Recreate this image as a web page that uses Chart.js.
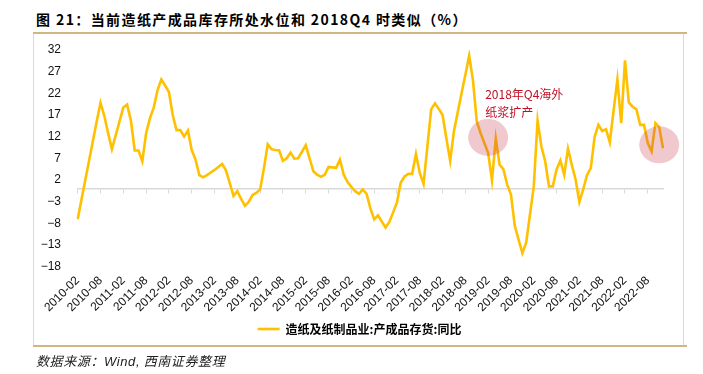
<!DOCTYPE html>
<html>
<head>
<meta charset="utf-8">
<script src="https://cdn.jsdelivr.net/npm/chart.js@4.4.1/dist/chart.umd.min.js"></script>
<style>
    html, body { margin: 0; padding: 0; background: #fff; }
    #wrap { position: relative; width: 703px; height: 374px; overflow: hidden; }
    #title { position: absolute; left: 36px; top: 9px; font: bold 14px "Noto Sans CJK SC", sans-serif; letter-spacing: 1.4px; color: #000; white-space: nowrap; }
    .hline { position: absolute; left: 33px; width: 654px; height: 0; border-top: 2px solid #d3b582; }
    .vline { position: absolute; top: 34px; width: 0; height: 311px; border-left: 1px solid #d9d9d9; }
    #source { position: absolute; left: 36px; top: 351px; font: italic 13px "Noto Sans CJK SC", sans-serif; letter-spacing: 0.6px; color: #222; white-space: nowrap; }
    #source span { font-family: "Liberation Sans", Arial, sans-serif; }
    canvas { position: absolute; left: 0; top: 0; }
</style>
</head>
<body>
<div id="wrap">
    <div id="title">图 21：当前造纸产成品库存所处水位和 2018Q4 时类似（%）</div>
    <div class="hline" style="top:32px"></div>
    <div class="vline" style="left:33px"></div>
    <div class="vline" style="left:683px"></div>
    <div class="hline" style="top:345px"></div>
    <canvas id="inventoryChart" width="703" height="374"></canvas>
    <div id="source">数据来源：<span>Wind,</span> 西南证券整理</div>
</div>
<script>
// Months 2010-02 .. 2022-12
const startYear = 2010;
const startMonth = 2;

// 造纸及纸制品业:产成品存货:同比 (%)
const inventoryYoY = [
    -7.1, -2.5, 2.0, 6.5, 11.0, 15.5, 19.8, 16.8, 12.8, 9.1,
    12.3, 15.5, 18.7, 19.4, 15.7, 8.8, 8.8, 6.3, 12.8, 16.2,
    18.7, 22.7, 25.2, 23.8, 22.3, 17.0, 13.5, 13.5, 12.0, 13.4,
    8.9, 6.7, 3.1, 2.6, 3.1, 3.7, 4.3, 5.0, 5.7, 4.2,
    1.3, -1.7, -0.6, -2.4, -4.0, -3.1, -1.5, -1.0, -0.2, 4.7,
    10.2, 9.1, 8.9, 8.8, 6.4, 7.0, 8.3, 6.9, 7.0, 8.5,
    10.0, 7.0, 4.0, 3.2, 2.7, 3.2, 5.0, 4.9, 4.8, 6.7,
    3.2, 1.5, 0.4, -0.6, -1.2, -0.2, -1.2, -4.5, -7.1, -6.2,
    -7.6, -9.0, -7.7, -5.5, -3.2, 1.4, 2.8, 3.4, 3.4, 8.0,
    3.6, 1.1, 9.7, 18.3, 19.7, 18.4, 17.0, 11.6, 6.4, 13.3,
    17.7, 22.0, 26.3, 30.7, 25.0, 15.5, 12.8, 10.5, 8.2, 1.9,
    11.6, 5.5, 4.5, 0.9, -1.4, -8.6, -11.8, -14.9, -12.5, -6.0,
    0.5, 15.7, 9.7, 6.3, 0.5, 0.5, 4.4, 6.5, 3.2, 9.2,
    5.5, 2.1, -3.1, -0.2, 3.1, 4.7, 11.9, 14.7, 13.3, 13.7,
    10.7, 18.0, 25.2, 15.1, 29.6, 19.9, 18.9, 18.3, 14.7, 14.7,
    10.5, 8.6, 15.1, 14.2, 9.3
];

const months = [];
for (let k = 0; k < inventoryYoY.length; k++) {
    const m = startMonth - 1 + k;
    const yr = startYear + Math.floor(m / 12);
    const mo = (m % 12) + 1;
    months.push(yr + '-' + String(mo).padStart(2, '0'));
}

// y axis
const yMin = -18;
const yMax = 32;
const yStep = 5;

// highlighted spots and note
const highlightMonths = ['2019-02', '2022-11'];
const highlightValues = [11.8, 10.1];
const noteLines = ['2018年Q4海外', '纸浆扩产'];

const tickFont = { family: '"Liberation Sans", Arial, sans-serif', size: 12 };

const highlightPlugin = {
    id: 'highlights',
    afterDatasetsDraw(chart) {
        const { ctx, scales } = chart;
        ctx.save();
        const centers = highlightMonths.map((m, i) => ({
            x: scales.x.getPixelForValue(months.indexOf(m)),
            y: scales.y.getPixelForValue(highlightValues[i])
        }));
        centers.forEach(c => {
            ctx.beginPath();
            ctx.ellipse(c.x, c.y, 20, 18.5, 0, 0, Math.PI * 2);
            ctx.fillStyle = 'rgba(200, 60, 80, 0.28)';
            ctx.fill();
        });
        // note above the first spot
        ctx.fillStyle = '#c00f25';
        ctx.font = '12px "Noto Sans CJK SC", sans-serif';
        ctx.textAlign = 'left';
        ctx.textBaseline = 'middle';
        noteLines.forEach((t, i) => {
            ctx.fillText(t, centers[0].x - 3, centers[0].y - 43 + i * 17.5);
        });
        ctx.restore();
    }
};

new Chart(document.getElementById('inventoryChart'), {
    type: 'line',
    data: {
        labels: months,
        datasets: [{
            label: '造纸及纸制品业:产成品存货:同比',
            data: inventoryYoY,
            borderColor: '#FFC000',
            backgroundColor: '#FFC000',
            borderWidth: 2.6,
            pointRadius: 0,
            tension: 0
        }]
    },
    options: {
        responsive: false,
        animation: false,
        layout: {
            padding: { left: 36, right: 20, top: 50, bottom: 29 }
        },
        plugins: {
            legend: {
                position: 'bottom',
                labels: {
                    usePointStyle: true,
                    pointStyle: 'line',
                    pointStyleWidth: 22,
                    color: '#000',
                    padding: 10,
                    font: { family: '"Noto Sans CJK SC", sans-serif', size: 12, weight: 'bold' }
                }
            },
            tooltip: { enabled: false }
        },
        scales: {
            x: {
                type: 'category',
                position: 'bottom',
                grid: { display: false, drawTicks: true, tickLength: 4 },
                border: { display: false },
                ticks: {
                    autoSkip: false,
                    minRotation: 45,
                    maxRotation: 45,
                    padding: 3,
                    color: '#111',
                    font: tickFont,
                    callback: function(value, index) {
                        return index % 6 === 0 ? months[index] : '';
                    }
                },
                afterFit: function(scale) { scale.height = 46.5; }
            },
            x0: {
                type: 'category',
                position: { y: 0 },
                grid: {
                    drawOnChartArea: false,
                    drawTicks: true,
                    tickLength: 4,
                    lineWidth: 1,
                    color: ctx => (ctx.index % 6 === 0 ? '#d9d9d9' : 'rgba(0,0,0,0)')
                },
                border: { display: true, color: '#d9d9d9', width: 1.5 },
                ticks: { display: false, autoSkip: false }
            },
            y: {
                min: yMin,
                max: yMax,
                grid: { display: false, drawTicks: false },
                border: { display: false },
                ticks: {
                    stepSize: yStep,
                    padding: 16.7,
                    color: '#111',
                    font: tickFont,
                    callback: v => String(v).replace('-', '\u2212')
                },
                afterFit: function(scale) { scale.width = 41.7; }
            },
            // empty right-hand strip, keeps the plot clear of the frame
            yR: {
                position: 'right',
                min: 0,
                max: 1,
                grid: { display: false, drawTicks: false },
                border: { display: false },
                ticks: { display: false },
                afterFit: function(scale) { scale.width = 20; }
            }
        }
    },
    plugins: [highlightPlugin]
});
</script>
</body>
</html>
